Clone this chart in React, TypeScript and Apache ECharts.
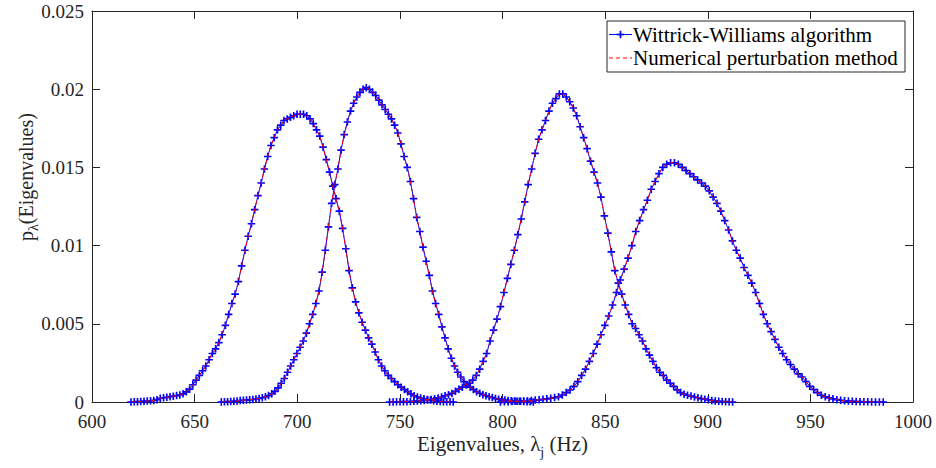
import React, { useEffect, useRef } from "react";
import * as echarts from "echarts";

// x-range (start, end) of the 100-point evaluation grid of each density curve
const X_RANGES: [number, number][] = [
  [619, 776],
  [663, 815],
  [745, 912.1],
  [799, 985.5],
];

const CURVE_1 = [
  0, 0.00001, 0.00002, 0.00003, 0.00005, 0.00006, 0.00008, 0.0001, 0.00015, 0.00024,
  0.00027, 0.0003, 0.00034, 0.00037, 0.00041, 0.00045, 0.00052, 0.00065, 0.00082, 0.0011,
  0.0014, 0.0017, 0.002, 0.0023, 0.0027, 0.0031, 0.0034, 0.0038, 0.0043, 0.0049,
  0.0056, 0.0063, 0.0069, 0.0077, 0.0087, 0.0097, 0.0106, 0.0114, 0.0123, 0.0132,
  0.014, 0.0149, 0.0157, 0.0164, 0.0169, 0.0174, 0.0177, 0.018, 0.0181, 0.0182,
  0.0183, 0.0184, 0.0184, 0.0184, 0.0183, 0.0181, 0.0178, 0.0174, 0.017, 0.0163,
  0.0155, 0.0147, 0.0138, 0.013, 0.0122, 0.0111, 0.0098, 0.0084, 0.0073, 0.0064,
  0.0057, 0.0051, 0.0046, 0.0041, 0.0037, 0.0032, 0.0027, 0.0023, 0.002, 0.0017,
  0.0015, 0.0013, 0.0011, 0.00095, 0.0008, 0.00066, 0.00052, 0.0004, 0.00032, 0.00025,
  0.0002, 0.00016, 0.00012, 0.00008, 0.00005, 0.00003, 0.00002, 0.00001, 0.00001, 0,
];

const CURVE_2 = [
  0, 0.00001, 0.00002, 0.00003, 0.00005, 0.00007, 0.00009, 0.00011, 0.00013, 0.00014,
  0.00016, 0.00019, 0.00023, 0.00027, 0.00033, 0.00041, 0.00053, 0.00068, 0.0009, 0.0012,
  0.0015, 0.0019, 0.0023, 0.0027, 0.0031, 0.0035, 0.0039, 0.0044, 0.005, 0.0056,
  0.0063, 0.0071, 0.0083, 0.0097, 0.0112, 0.0127, 0.0139, 0.0149, 0.0161, 0.0171,
  0.0179, 0.0186, 0.0191, 0.0195, 0.0198, 0.02, 0.0201, 0.02, 0.0198, 0.0196,
  0.0193, 0.019, 0.0187, 0.0184, 0.0181, 0.0177, 0.0172, 0.0165, 0.0157, 0.015,
  0.0141, 0.013, 0.0118, 0.0109, 0.0099, 0.009, 0.0081, 0.0071, 0.0063, 0.0056,
  0.0048, 0.0041, 0.0034, 0.0028, 0.0023, 0.0019, 0.0016, 0.0013, 0.0011, 0.00095,
  0.0008, 0.00066, 0.00056, 0.00047, 0.0004, 0.00034, 0.00028, 0.00022, 0.00018, 0.00015,
  0.00012, 0.0001, 0.00008, 0.00007, 0.00005, 0.00004, 0.00003, 0.00002, 0.00001, 0,
];

const CURVE_3 = [
  0, 0, 0.00001, 0.00001, 0.00002, 0.00002, 0.00003, 0.00004, 0.00006, 0.00008,
  0.0001, 0.00013, 0.00016, 0.0002, 0.00026, 0.00032, 0.0004, 0.00047, 0.00055, 0.00068,
  0.00082, 0.00095, 0.0011, 0.0012, 0.0014, 0.0017, 0.0021, 0.0026, 0.0031, 0.0039,
  0.0046, 0.0053, 0.0061, 0.007, 0.0079, 0.0088, 0.0097, 0.0107, 0.0117, 0.0128,
  0.0139, 0.0149, 0.0159, 0.0168, 0.0174, 0.018, 0.0186, 0.0191, 0.0194, 0.0197,
  0.0197, 0.0195, 0.0192, 0.0188, 0.0183, 0.0176, 0.0169, 0.0162, 0.0154, 0.0147,
  0.014, 0.0131, 0.0119, 0.0108, 0.0096, 0.0084, 0.0076, 0.0069, 0.0062, 0.0056,
  0.005, 0.0047, 0.0043, 0.0039, 0.0034, 0.003, 0.0026, 0.0022, 0.0019, 0.0017,
  0.0014, 0.0012, 0.001, 0.00078, 0.0006, 0.0005, 0.00043, 0.00038, 0.00032, 0.00027,
  0.00022, 0.00018, 0.00014, 0.0001, 0.00007, 0.00005, 0.00003, 0.00002, 0.00001, 0,
];

const CURVE_4 = [
  0, 0.00001, 0.00002, 0.00003, 0.00004, 0.00005, 0.00006, 0.00008, 0.0001, 0.00012,
  0.00014, 0.00017, 0.0002, 0.00024, 0.00028, 0.00033, 0.00045, 0.0006, 0.00077, 0.001,
  0.0013, 0.0017, 0.0021, 0.0026, 0.0031, 0.0037, 0.0043, 0.0049, 0.0055, 0.0062,
  0.007, 0.0078, 0.0085, 0.0092, 0.01, 0.0109, 0.0116, 0.0123, 0.0129, 0.0136,
  0.0141, 0.0146, 0.015, 0.0152, 0.0153, 0.0153, 0.0152, 0.015, 0.0148, 0.0146,
  0.0144, 0.0142, 0.014, 0.0138, 0.0135, 0.0131, 0.0127, 0.0122, 0.0116, 0.011,
  0.0103, 0.0097, 0.0092, 0.0086, 0.0081, 0.0076, 0.007, 0.0063, 0.0056, 0.005,
  0.0045, 0.004, 0.0035, 0.0031, 0.0027, 0.0024, 0.0021, 0.0018, 0.0016, 0.0013,
  0.001, 0.0008, 0.0006, 0.00043, 0.00033, 0.00026, 0.0002, 0.00015, 0.00011, 0.00008,
  0.00006, 0.00004, 0.00003, 0.00002, 0.00001, 0.00001, 0, 0, 0, 0,
];

const CURVES = [CURVE_1, CURVE_2, CURVE_3, CURVE_4];

const LEGEND_LABELS = ["Wittrick-Williams algorithm", "Numerical perturbation method"];
const X_NAME = { main: "Eigenvalues, ", sym: "λ", sub: "j", tail: " (Hz)" };
const Y_NAME = { main: "p", sub: "λ", tail: "(Eigenvalues)" };

const FONT = "Liberation Serif";
const AX = "#262626";
const BLUE = "#0000ff";
const RED = "#ff0000";
const PLUS = "path://M3.9,0h2.2v3.9h3.9v2.2h-3.9v3.9h-2.2v-3.9h-3.9v-2.2h3.9z";

function measure(text: string, size: number): number {
  const ctx = document.createElement("canvas").getContext("2d");
  if (!ctx) return text.length * size * 0.5;
  ctx.font = `${size}px "Liberation Serif"`;
  return ctx.measureText(text).width;
}

function toPairs(ys: number[], range: [number, number]) {
  const n = ys.length;
  const step = (range[1] - range[0]) / (n - 1);
  return ys.map((y, i) => [range[0] + i * step, y]);
}

export default function App() {
  const ref = useRef<HTMLDivElement>(null);

  useEffect(() => {
    if (!ref.current) return;
    const chart = echarts.init(ref.current, undefined, { renderer: "svg" });

    const gl = 92, gr = 913, gt = 11, gb = 402;

    const blueSeries = CURVES.map((c, k) => ({
      type: "line",
      name: "ww" + k,
      data: toPairs(c, X_RANGES[k]),
      symbol: PLUS,
      symbolSize: 7.5,
      showSymbol: true,
      showAllSymbol: true,
      lineStyle: { color: BLUE, width: 1 },
      itemStyle: { color: BLUE },
      z: 2,
      silent: true,
    }));
    const redSeries = CURVES.map((c, k) => ({
      type: "line",
      name: "np" + k,
      data: toPairs(c, X_RANGES[k]),
      symbol: "none",
      lineStyle: { color: RED, width: 1, type: [4, 3] },
      z: 3,
      silent: true,
    }));

    // x-axis name with subscript
    const xfs = 21, xsfs = 14;
    const xw = [measure(X_NAME.main, xfs), measure(X_NAME.sym, xfs), measure(X_NAME.sub, xsfs), measure(X_NAME.tail, xfs)];
    const xTot = xw.reduce((a, b) => a + b, 0);
    let xs = (gl + gr) / 2 - xTot / 2;
    const xNameY = 444;
    const xNameEls: any[] = [];
    [X_NAME.main, X_NAME.sym, X_NAME.sub, X_NAME.tail].forEach((t, i) => {
      const isSub = i === 2;
      xNameEls.push({
        type: "text",
        x: xs,
        y: isSub ? xNameY + 8 : xNameY,
        style: {
          text: t, fontSize: isSub ? xsfs : xfs, lineHeight: isSub ? 14 : 20,
          fontFamily: FONT, fill: AX, align: "left", verticalAlign: "middle",
        },
      });
      xs += xw[i];
    });

    // y-axis name with subscript (rotated)
    const yfs = 20, ysfs = 14;
    const yw = [measure(Y_NAME.main, yfs), measure(Y_NAME.sub, ysfs), measure(Y_NAME.tail, yfs)];
    const yTot = yw.reduce((a, b) => a + b, 0);
    let ys = -yTot / 2;
    const yNameEls: any[] = [];
    [Y_NAME.main, Y_NAME.sub, Y_NAME.tail].forEach((t, i) => {
      const isSub = i === 1;
      yNameEls.push({
        type: "text",
        x: ys,
        y: isSub ? 7 : 0,
        style: { text: t, fontSize: isSub ? ysfs : yfs, fontFamily: FONT, fill: AX, align: "left", verticalAlign: "middle" },
      });
      ys += yw[i];
    });

    // legend
    const lx = 607, ly = 21, lw = 298, lh = 51;
    const r1 = 34.5, r2 = 58;
    const legendEls: any[] = [
      { type: "rect", shape: { x: lx, y: ly, width: lw, height: lh }, style: { fill: "#fff", stroke: AX, lineWidth: 1 } },
      { type: "line", shape: { x1: 609, y1: r1, x2: 632, y2: r1 }, style: { stroke: BLUE, lineWidth: 1 } },
      { type: "rect", shape: { x: 619.6, y: r1 - 3.75, width: 1.7, height: 7.5 }, style: { fill: BLUE } },
      { type: "rect", shape: { x: 616.7, y: r1 - 0.85, width: 7.5, height: 1.7 }, style: { fill: BLUE } },
      { type: "line", shape: { x1: 609, y1: r2, x2: 632, y2: r2 }, style: { stroke: RED, lineWidth: 1, lineDash: [4, 3] } },
      { type: "text", x: 633, y: r1, style: { text: LEGEND_LABELS[0], fontSize: 21, fontFamily: FONT, fill: "#000", align: "left", verticalAlign: "middle" } },
      { type: "text", x: 633, y: r2, style: { text: LEGEND_LABELS[1], fontSize: 21, fontFamily: FONT, fill: "#000", align: "left", verticalAlign: "middle" } },
    ];

    const axisCommon = {
      type: "value",
      axisLine: { show: true, onZero: false, lineStyle: { color: AX, width: 1 } },
      axisTick: { show: true, inside: true, length: 8, lineStyle: { color: AX, width: 1 } },
      splitLine: { show: false },
    };

    chart.setOption({
      animation: false,
      backgroundColor: "#fff",
      grid: { left: gl, right: 936 - gr, top: gt, bottom: 468 - gb, containLabel: false },
      xAxis: [
        {
          ...axisCommon,
          position: "bottom",
          min: 600, max: 1000, interval: 50,
          axisLabel: {
            show: true, margin: 10, color: AX, fontSize: 19, lineHeight: 18, fontFamily: FONT,
            formatter: (v: number) => String(v),
          },
        },
        {
          ...axisCommon,
          position: "top",
          min: 600, max: 1000, interval: 50,
          axisLabel: { show: false },
        },
      ],
      yAxis: [
        {
          ...axisCommon,
          position: "left",
          min: 0, max: 0.025, interval: 0.005,
          axisLabel: {
            show: true, margin: 8, color: AX, fontSize: 19, lineHeight: 18, fontFamily: FONT,
            padding: [0, 0, 4, 0],
            formatter: (v: number) => String(parseFloat(v.toFixed(4))),
          },
        },
        {
          ...axisCommon,
          position: "right",
          min: 0, max: 0.025, interval: 0.005,
          axisLabel: { show: false },
        },
      ],
      series: [...blueSeries, ...redSeries],
      graphic: [
        ...xNameEls,
        { type: "group", x: 26, y: 177, rotation: Math.PI / 2, children: yNameEls },
        ...legendEls,
      ],
    });

    return () => chart.dispose();
  }, []);

  return (
    <div
      ref={ref}
      style={{ position: "fixed", left: 0, top: 0, width: 936, height: 468, background: "#fff" }}
    />
  );
}
